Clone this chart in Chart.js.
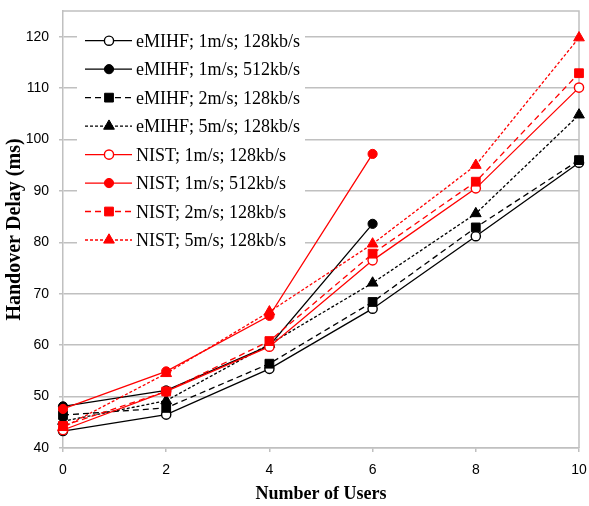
<!DOCTYPE html>
<html>
<head>
<meta charset="utf-8">
<script src="https://cdn.jsdelivr.net/npm/chart.js@4/dist/chart.umd.min.js"></script>
<style>
html,body{margin:0;padding:0;background:#fff;}
#wrap{position:relative;width:589px;height:506px;}
</style>
</head>
<body>
<div id="wrap"><canvas id="c" width="589" height="506"></canvas></div>
<script>
const users = [0, 2, 4, 6, 8, 10];
const seriesNames = [
  "eMIHF; 1m/s; 128kb/s",
  "eMIHF; 1m/s; 512kb/s",
  "eMIHF; 2m/s; 128kb/s",
  "eMIHF; 5m/s; 128kb/s",
  "NIST; 1m/s; 128kb/s",
  "NIST; 1m/s; 512kb/s",
  "NIST; 2m/s; 128kb/s",
  "NIST; 5m/s; 128kb/s"
];
const eMIHF_1_128 = [43.3, 46.5, 55.4, 67.1, 81.2, 95.5];
const eMIHF_1_512 = [48.1, 51.2, 59.9, 83.6];
const eMIHF_2_128 = [46.4, 47.8, 56.4, 68.4, 82.9, 96.0];
const eMIHF_5_128 = [45.2, 49.2, 60.2, 72.1, 85.6, 104.8];
const NIST_1_128 = [43.5, 51.0, 59.7, 76.5, 90.5, 110.1];
const NIST_1_512 = [47.6, 54.9, 65.7, 97.2];
const NIST_2_128 = [44.3, 51.0, 60.8, 77.8, 91.8, 112.9];
const NIST_5_128 = [44.0, 54.5, 66.5, 79.7, 95.0, 119.8];
const yTicks = [40, 50, 60, 70, 80, 90, 100, 110, 120];
const xTicks = [0, 2, 4, 6, 8, 10];

const allValues = [eMIHF_1_128, eMIHF_1_512, eMIHF_2_128, eMIHF_5_128, NIST_1_128, NIST_1_512, NIST_2_128, NIST_5_128];
const styles = [
  {color:'#000000', dash:[], marker:'circle', open:true},
  {color:'#000000', dash:[], marker:'circle', open:false},
  {color:'#000000', dash:[6,4], marker:'rect', open:false},
  {color:'#000000', dash:[3,2], marker:'triangle', open:false},
  {color:'#FF0000', dash:[], marker:'circle', open:true},
  {color:'#FF0000', dash:[], marker:'circle', open:false},
  {color:'#FF0000', dash:[6,4], marker:'rect', open:false},
  {color:'#FF0000', dash:[3,2], marker:'triangle', open:false}
];
const radiusFor = m => m === 'circle' ? 4.6 : (m === 'rect' ? 6.2 : 6.2);

const datasets = allValues.map((vals, i) => {
  const s = styles[i];
  return {
    label: seriesNames[i],
    data: vals.map((v, j) => ({x: users[j], y: v})),
    borderColor: s.color,
    backgroundColor: s.color,
    borderWidth: 1.3,
    borderDash: s.dash,
    pointStyle: s.marker,
    pointRadius: radiusFor(s.marker),
    pointBackgroundColor: s.open ? '#ffffff' : s.color,
    pointBorderColor: s.color,
    pointBorderWidth: s.open ? 1.4 : 1,
    tension: 0,
    clip: false,
    order: 8 - i
  };
});

function drawMarker(ctx, s, x, y) {
  const r = radiusFor(s.marker);
  ctx.save();
  ctx.setLineDash([]);
  ctx.fillStyle = s.open ? '#ffffff' : s.color;
  ctx.strokeStyle = s.color;
  ctx.lineWidth = s.open ? 1.4 : 1;
  ctx.beginPath();
  if (s.marker === 'circle') {
    ctx.arc(x, y, r, 0, Math.PI * 2);
  } else if (s.marker === 'rect') {
    const h = r * Math.SQRT1_2;
    ctx.rect(x - h, y - h, 2 * h, 2 * h);
  } else {
    let a = 0;
    ctx.moveTo(x + Math.sin(a) * r, y - Math.cos(a) * r);
    a += 2 * Math.PI / 3;
    ctx.lineTo(x + Math.sin(a) * r, y - Math.cos(a) * r);
    a += 2 * Math.PI / 3;
    ctx.lineTo(x + Math.sin(a) * r, y - Math.cos(a) * r);
    ctx.closePath();
  }
  ctx.fill();
  ctx.stroke();
  ctx.restore();
}

const framePlugin = {
  id: 'frame',
  beforeDatasetsDraw(chart) {
    const {ctx, chartArea: a} = chart;
    ctx.save();
    ctx.strokeStyle = '#c0c0c0';
    ctx.lineWidth = 1.5;
    ctx.beginPath();
    ctx.moveTo(a.left, a.top);
    ctx.lineTo(a.right, a.top);
    ctx.lineTo(a.right, a.bottom);
    ctx.stroke();
    ctx.restore();
  }
};

const legendPlugin = {
  id: 'customLegend',
  afterDraw(chart) {
    const ctx = chart.ctx;
    ctx.save();
    ctx.fillStyle = '#ffffff';
    ctx.fillRect(77, 23, 228, 232);
    for (let i = 0; i < seriesNames.length; i++) {
      const s = styles[i];
      const y = 40.7 + 28.47 * i;
      ctx.save();
      ctx.strokeStyle = s.color;
      ctx.lineWidth = 1.3;
      ctx.setLineDash(s.dash);
      ctx.beginPath();
      ctx.moveTo(85, y);
      ctx.lineTo(132, y);
      ctx.stroke();
      ctx.restore();
      drawMarker(ctx, s, 109, y);
      ctx.fillStyle = '#000000';
      ctx.font = '18px "Liberation Serif", "Times New Roman", serif';
      ctx.textBaseline = 'alphabetic';
      ctx.textAlign = 'left';
      ctx.fillText(seriesNames[i], 136, y + 6);
    }
    ctx.restore();
  }
};

new Chart(document.getElementById('c'), {
  type: 'line',
  data: {datasets},
  plugins: [framePlugin, legendPlugin],
  options: {
    responsive: false,
    animation: false,
    events: [],
    layout: {padding: {left: 0, right: 10, top: 11, bottom: 0}},
    plugins: {legend: {display: false}, tooltip: {enabled: false}},
    scales: {
      x: {
        type: 'linear',
        min: 0, max: 10,
        afterFit(scale) { scale.height = 58; scale.paddingLeft = 0; scale.paddingRight = 0; },
        afterBuildTicks(scale) { scale.ticks = xTicks.map(v => ({value: v})); },
        grid: {drawOnChartArea: false, drawTicks: true, tickLength: 4, color: '#c0c0c0', lineWidth: 1.5},
        border: {display: true, color: '#c0c0c0', width: 1.5},
        ticks: {color: '#000000', padding: 10, font: {family: '"Liberation Sans", Arial, sans-serif', size: 14}},
        title: {display: true, text: 'Number of Users', color: '#000000', padding: {top: 0, bottom: 3},
          font: {family: '"Liberation Serif", "Times New Roman", serif', size: 18, weight: 'bold', lineHeight: 1}}
      },
      y: {
        type: 'linear',
        min: 40, max: 125,
        afterFit(scale) { scale.width = 63; scale.paddingTop = 0; scale.paddingBottom = 0; },
        afterBuildTicks(scale) { scale.ticks = yTicks.map(v => ({value: v})); },
        grid: {drawOnChartArea: true, drawTicks: true, tickLength: 4, color: '#c0c0c0', lineWidth: 1.5},
        border: {display: true, color: '#c0c0c0', width: 1.5},
        ticks: {color: '#000000', padding: 10, font: {family: '"Liberation Sans", Arial, sans-serif', size: 14}},
        title: {display: true, text: 'Handover Delay (ms)', color: '#000000', padding: {top: 5, bottom: 0},
          font: {family: '"Liberation Serif", "Times New Roman", serif', size: 20, weight: 'bold', lineHeight: 1}}
      }
    }
  }
});
</script>
</body>
</html>
